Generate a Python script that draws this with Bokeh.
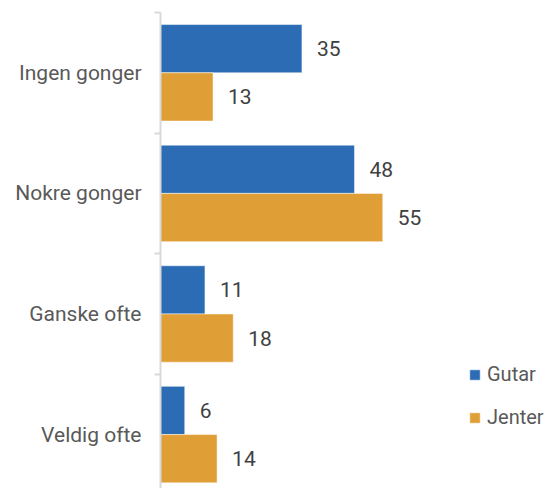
from bokeh.plotting import figure
from bokeh.models import Range1d, FixedTicker, ColumnDataSource
from bokeh.embed import file_html
from bokeh.resources import INLINE

categories = ["Ingen gonger", "Nokre gonger", "Ganske ofte", "Veldig ofte"]
gutar = [35, 48, 11, 6]
jenter = [13, 55, 18, 14]
series_names = ["Gutar", "Jenter"]
colors = ["#2B6CB5", "#E09E36"]

FONT = "Roboto"

idx = list(range(len(categories)))
src_g = ColumnDataSource(dict(y=[i + 0.3 for i in idx], v=gutar, t=[str(v) for v in gutar]))
src_j = ColumnDataSource(dict(y=[i + 0.7 for i in idx], v=jenter, t=[str(v) for v in jenter]))

p = figure(width=552, height=488, output_backend="svg", toolbar_location=None,
           x_range=Range1d(0, 97), y_range=Range1d(3.947, 0),
           min_border_left=160, min_border_right=0, min_border_top=12, min_border_bottom=0)
p.outline_line_color = None
p.xgrid.visible = False
p.ygrid.visible = False
p.xaxis.visible = False

p.hbar(y="y", right="v", left=0, height=0.4, source=src_g, color=colors[0],
       line_color="white", line_width=0.5, legend_label=series_names[0])
p.hbar(y="y", right="v", left=0, height=0.4, source=src_j, color=colors[1],
       line_color="white", line_width=0.5, legend_label=series_names[1])

for s in (src_g, src_j):
    p.text(x="v", y="y", text="t", source=s, x_offset=15, text_align="left",
           text_baseline="middle", text_font_size="21px", text_color="#404040",
           text_font={"value": FONT})

ax = p.yaxis[0]
ax.ticker = FixedTicker(ticks=[i + 0.5 for i in idx], minor_ticks=[0, 1, 2, 3, 4])
ax.major_label_overrides = {i + 0.5: c for i, c in zip(idx, categories)}
ax.major_tick_line_color = None
ax.major_tick_out = 0
ax.major_tick_in = 0
ax.minor_tick_out = 6
ax.minor_tick_in = 0
ax.minor_tick_line_color = "#D9D9D9"
ax.minor_tick_line_width = 2
ax.axis_line_color = "#D9D9D9"
ax.axis_line_width = 2
ax.major_label_standoff = 13
ax.major_label_text_font = FONT
ax.major_label_text_font_size = "21px"
ax.major_label_text_color = "#595959"

lg = p.legend[0]
lg.location = (308, 59)
lg.border_line_color = None
lg.background_fill_alpha = 0
lg.padding = 0
lg.margin = 0
lg.spacing = 19
lg.glyph_width = 13
lg.glyph_height = 13
lg.label_height = 20
lg.label_standoff = 6
lg.label_text_font = FONT
lg.label_text_font_size = "20px"
lg.label_text_color = "#595959"

open("out.html", "w").write(file_html(p, INLINE))
